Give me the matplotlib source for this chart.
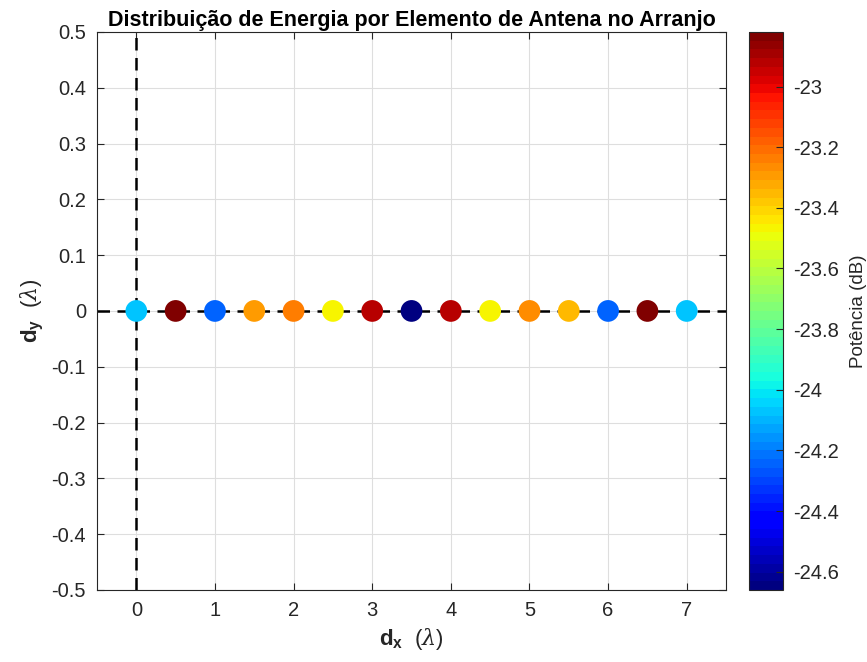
import matplotlib.pyplot as plt
import numpy as np

plt.rcParams['font.family'] = ['Liberation Sans', 'DejaVu Sans']
plt.rcParams['mathtext.fontset'] = 'custom'
plt.rcParams['mathtext.rm'] = 'Liberation Sans'
plt.rcParams['mathtext.bf'] = 'Liberation Sans:bold'
plt.rcParams['mathtext.it'] = 'DejaVu Serif:italic'

# Dados
pos_x = [0, 0.5, 1, 1.5, 2, 2.5, 3, 3.5, 4, 4.5, 5, 5.5, 6, 6.5, 7]
pos_y = [0] * 15
potencia = [-24.06, -22.82, -24.25, -23.30, -23.25, -23.48, -22.91, -24.66,
            -22.93, -23.48, -23.26, -23.34, -24.25, -22.82, -24.06]

cmin, cmax = -24.66, -22.82

fig = plt.figure(figsize=(8.67, 6.62), dpi=100)
ax = fig.add_axes([0.1119, 0.1088, 0.7255, 0.843])
cax = fig.add_axes([0.8639, 0.1088, 0.0392, 0.843])

ax.axhline(0, color='k', ls=(0, (5, 3)), lw=1.8, zorder=2)
ax.axvline(0, color='k', ls=(0, (5, 3)), lw=1.8, zorder=2)

sc = ax.scatter(pos_x, pos_y, c=potencia, cmap=plt.get_cmap('jet', 64),
                vmin=cmin, vmax=cmax, s=245, edgecolors='none', zorder=3)

ax.set_xlim(-0.5, 7.5)
ax.set_ylim(-0.5, 0.5)
ax.set_xticks(range(8))
ax.set_yticks(np.arange(-0.5, 0.51, 0.1))
ax.set_yticklabels(['-0.5', '-0.4', '-0.3', '-0.2', '-0.1', '0',
                    '0.1', '0.2', '0.3', '0.4', '0.5'])
ax.grid(True, color='#dedede', lw=0.8)
ax.set_axisbelow(True)
ax.tick_params(direction='in', labelsize=14.5, top=True, right=True,
               length=5, pad=8, colors='#262626')
for s in ax.spines.values():
    s.set_linewidth(0.8)
    s.set_color('#262626')

ax.set_xlabel(r'$\mathbf{d_x}$  $(\lambda)$', fontsize=16, labelpad=4,
              color='#262626')
ax.set_ylabel(r'$\mathbf{d_y}$  $(\lambda)$', fontsize=16, labelpad=4,
              color='#262626')
ax.set_title('Distribuição de Energia por Elemento de Antena no Arranjo',
             fontsize=15.5, fontweight='bold', pad=4)

cb = fig.colorbar(sc, cax=cax)
cb.set_ticks([-23, -23.2, -23.4, -23.6, -23.8, -24, -24.2, -24.4, -24.6])
cb.set_ticklabels(['-23', '-23.2', '-23.4', '-23.6', '-23.8', '-24',
                   '-24.2', '-24.4', '-24.6'])
cb.ax.tick_params(direction='in', labelsize=14.5, length=5, pad=7,
                  colors='#262626')
cb.outline.set_linewidth(0.8)
cb.outline.set_edgecolor('#262626')
cb.set_label('Potência (dB)', fontsize=13.5, labelpad=8, color='#262626')

plt.savefig('out.png', dpi=100)
